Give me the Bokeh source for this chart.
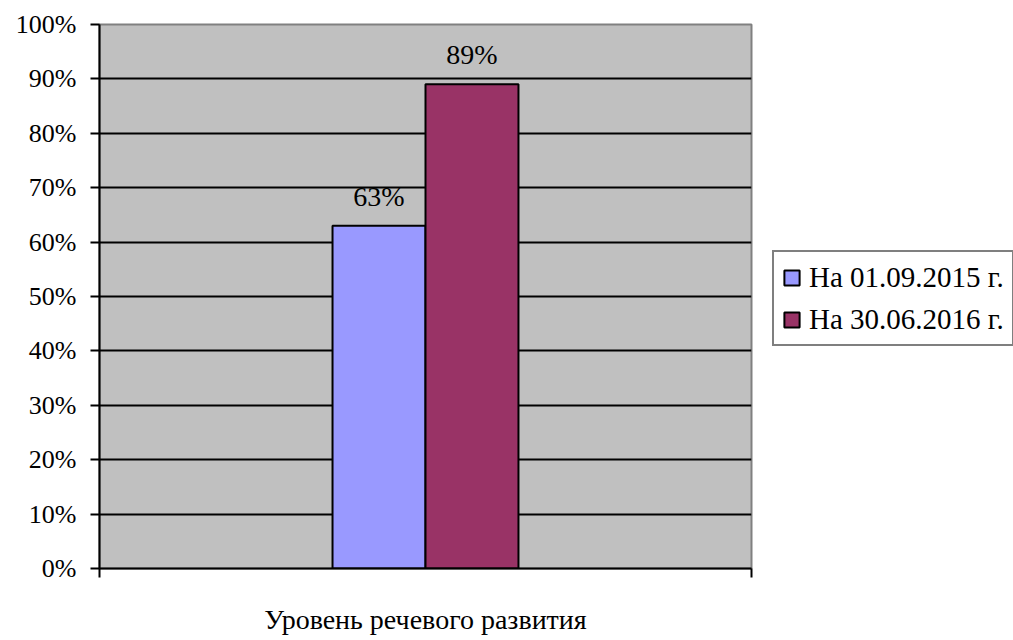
from bokeh.plotting import figure
from bokeh.models import (Range1d, FixedTicker, NumeralTickFormatter, ColumnDataSource,
                          LabelSet, Legend, LegendItem)
from bokeh.embed import file_html
from bokeh.resources import INLINE

categories = ["Уровень речевого развития"]
series_names = ["На 01.09.2015 г.", "На 30.06.2016 г."]
series_values = [0.63, 0.89]
series_labels = ["63%", "89%"]
series_colors = ["#9999FF", "#993366"]
y_ticks = [0.0, 0.1, 0.2, 0.3, 0.4, 0.5, 0.6, 0.7, 0.8, 0.9, 1.0]

FONT = "Liberation Serif"

p = figure(width=1005, height=632, output_backend="svg", toolbar_location=None,
           x_range=Range1d(-0.5, 0.5), y_range=Range1d(0, 1),
           frame_width=652, frame_height=544,
           min_border_left=99, min_border_top=24, min_border_bottom=64, min_border_right=254)
p.background_fill_color = "#C0C0C0"
p.border_fill_color = "white"
p.outline_line_color = "#808080"
p.outline_line_width = 2

# bars: one category, two series dodged
n = len(series_values)
bar_w = 0.1426
xs = [0 + (i - (n - 1) / 2) * bar_w for i in range(n)]
src = ColumnDataSource(dict(x=xs, top=series_values, label=series_labels,
                            color=series_colors, name=series_names))
r = p.vbar(x="x", top="top", width=bar_w, bottom=0, source=src, fill_color="color",
           line_color="black", line_width=2)

labels = LabelSet(x="x", y="top", text="label", source=src, text_align="center",
                  text_baseline="alphabetic", y_offset=20, text_font=FONT,
                  text_font_size="28px", text_color="black")
p.add_layout(labels)

# y axis
p.yaxis.ticker = FixedTicker(ticks=y_ticks)
p.yaxis.formatter = NumeralTickFormatter(format="0%")
p.yaxis.major_label_text_font = FONT
p.yaxis.major_label_text_font_size = "26px"
p.yaxis.major_label_text_color = "black"
p.yaxis.major_tick_out = 9
p.yaxis.major_tick_in = 0
p.yaxis.major_tick_line_width = 2
p.yaxis.major_tick_line_color = "black"
p.yaxis.minor_tick_line_color = None
p.yaxis.axis_line_width = 2
p.yaxis.axis_line_color = "black"
p.yaxis.major_label_standoff = 14

# x axis
p.xaxis.ticker = FixedTicker(ticks=[-0.5, 0.5])
p.xaxis.major_label_overrides = {-0.5: "", 0.5: ""}
p.xaxis.major_tick_out = 9
p.xaxis.major_tick_in = 0
p.xaxis.major_tick_line_width = 2
p.xaxis.major_tick_line_color = "black"
p.xaxis.minor_tick_line_color = None
p.xaxis.axis_line_width = 2
p.xaxis.axis_line_color = "black"
p.xaxis.axis_label = categories[0]
p.xaxis.axis_label_text_font = FONT
p.xaxis.axis_label_text_font_size = "28px"
p.xaxis.axis_label_text_font_style = "normal"
p.xaxis.axis_label_text_color = "black"
p.xaxis.axis_label_standoff = 26

p.xgrid.grid_line_color = None
p.ygrid.ticker = FixedTicker(ticks=y_ticks)
p.ygrid.grid_line_color = "black"
p.ygrid.grid_line_width = 2

items = [LegendItem(label=series_names[i], renderers=[r], index=i) for i in range(n)]
legend = Legend(items=items, location=(21, 222), label_text_font=FONT,
                label_text_font_size="29px", label_text_color="black",
                glyph_width=19, glyph_height=19, label_standoff=8, padding=8,
                spacing=8, label_height=34, border_line_color="black",
                border_line_width=2, background_fill_color="white",
                background_fill_alpha=1.0, margin=0)
p.add_layout(legend, "right")

open("out.html", "w").write(file_html(p, INLINE))
